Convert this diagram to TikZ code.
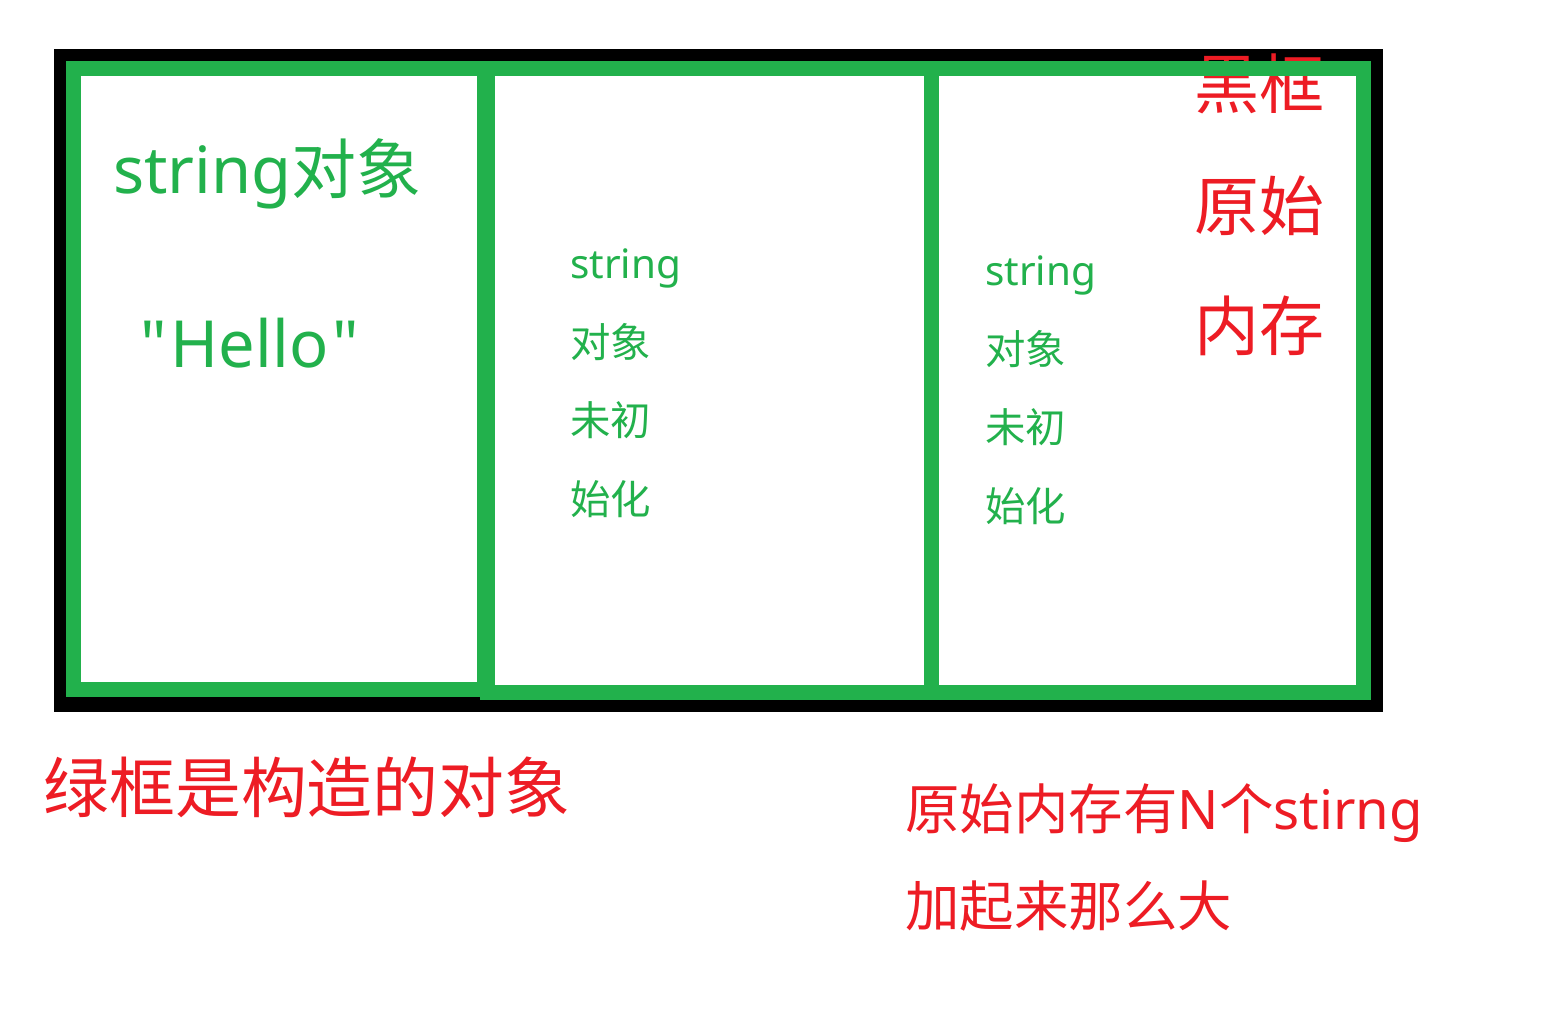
\documentclass[tikz,border=0pt]{standalone}
\usepackage{fontspec}
\setmainfont{Noto Sans CJK SC}
\newfontfamily\lat{Noto Sans}
\usepackage{tikz}
\definecolor{paintGreen}{RGB}{34,177,76}
\definecolor{paintRed}{RGB}{237,28,36}

\begin{document}
\begin{tikzpicture}[x=0.02cm, y=-0.02cm,
  big/.style={text=paintGreen, font=\fontsize{37}{40}\selectfont,
              inner sep=0pt, anchor=base west},
  sm/.style={text=paintGreen, font=\fontsize{23}{26}\selectfont,
             inner sep=0pt, anchor=base west},
  note/.style={text=paintRed, inner sep=0pt, anchor=base west}]

  \useasboundingbox (0,0) rectangle (1553,1019);

  % black outer frame
  \fill (54,49) rectangle (1383,712);
  \foreach \l/\r/\b in {73.5/484.5/689.5, 487.5/931.5/692.5, 931.5/1363.5/692.5}
    \fill[white] (\l,68.5) rectangle (\r,\b);

  % red remarks on the right
  \node[note, anchor=base east, font=\fontsize{37}{40}\selectfont] (hk) at (1325,108) {黑框};
  \node[note, anchor=base east, font=\fontsize{37}{40}\selectfont] (ys) at (1325,230) {原始};
  \node[note, anchor=base east, font=\fontsize{37}{40}\selectfont] (nc) at (1325,350) {内存};

  % green boxes
  \foreach \l/\r/\b in {73.5/484.5/689.5, 487.5/931.5/692.5, 931.5/1363.5/692.5}
    \draw[paintGreen, line width=0.3cm] (\l,68.5) rectangle (\r,\b);

  \node[big] (obj) at (113,193) {{\lat string}对象};
  \node[big] (hello) at (140,367) {\lat "\kern0.06em Hello\kern0.06em"};

  \foreach \x/\y/\n in {570/0/a, 985/7/b} {
    \node[sm] (s\n)  at (\x,278+\y) {\lat string};
    \node[sm] (d\n)  at (\x,357+\y) {对象};
    \node[sm] (w\n)  at (\x,435+\y) {未初};
    \node[sm] (h\n)  at (\x,514+\y) {始化};
  }

  \node[note, font=\fontsize{37.5}{40}\selectfont] (lk) at (43,812) {绿框是构造的对象};
  \node[note, font=\fontsize{31}{34}\selectfont] (n1) at (905,829) {原始内存有{\lat N}个{\lat stirng}};
  \node[note, font=\fontsize{31}{34}\selectfont] (n2) at (905,926) {加起来那么大};

\end{tikzpicture}
\end{document}
